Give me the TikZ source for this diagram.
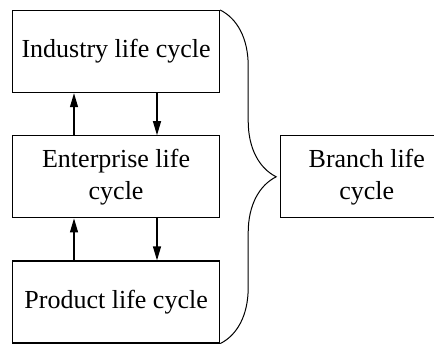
\documentclass[tikz,border=0pt]{standalone}
\usepackage{fontspec}
\setmainfont{Liberation Serif}
\usepackage{tikz}
\usetikzlibrary{arrows.meta,positioning,decorations.pathreplacing}

\begin{document}
\begin{tikzpicture}[>={Triangle[length=7pt,width=4pt]},node distance=21pt,
                    line width=0.6pt,font=\fontsize{13}{16}\selectfont]
  \tikzstyle{box}=[draw,rectangle,minimum width=103.5pt,minimum height=41pt,
                   inner sep=0pt,align=center]

  \useasboundingbox (0,0) rectangle (217pt,-171.5pt);

  \node[box]         (ind) [anchor=north west] at (6pt,-5pt) {Industry life cycle};
  \node[box]         (ent) [below=of ind] {Enterprise life\\cycle};
  \node[box]         (prod) [below=of ent] {Product life cycle};
  \node[box,minimum width=86pt] (br) [right=30pt of ent] {Branch life\\cycle};

  \draw[->] ([xshift=31pt]ent.north west) -- ([xshift=31pt]ind.south west);
  \draw[->] ([xshift=72.5pt]ind.south west) -- ([xshift=72.5pt]ent.north west);
  \draw[->] ([xshift=31pt]prod.north west) -- ([xshift=31pt]ent.south west);
  \draw[->] ([xshift=72.5pt]ent.south west) -- ([xshift=72.5pt]prod.north west);

  \draw[line width=0.5pt,decorate,decoration={brace,amplitude=28pt}]
    (ind.north east) -- (prod.south east);
\end{tikzpicture}
\end{document}
